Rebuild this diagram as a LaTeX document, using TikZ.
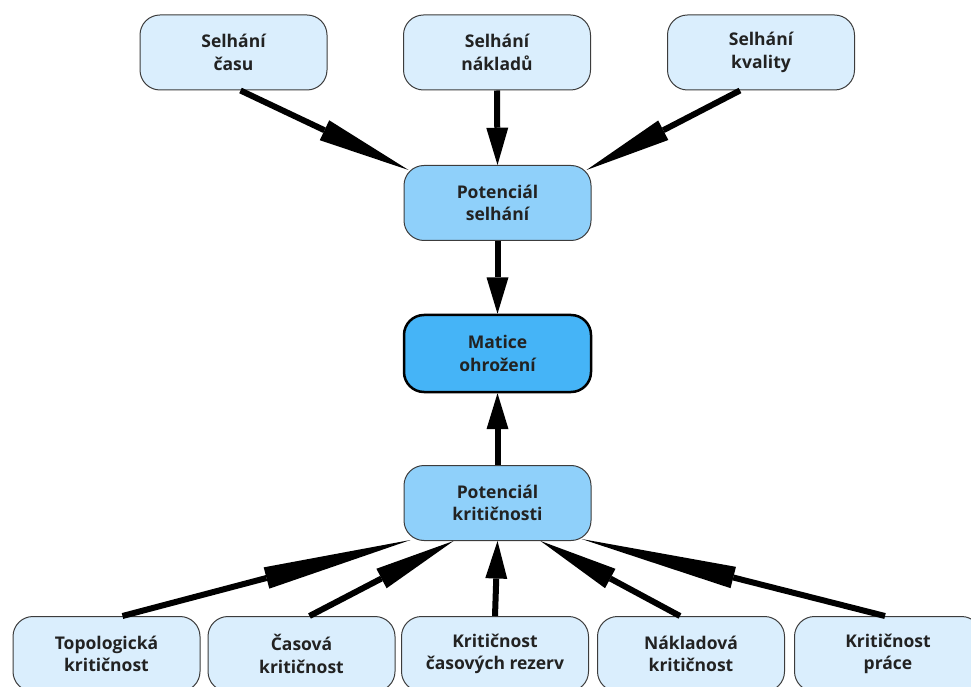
\documentclass[tikz,border=0pt]{standalone}
\usepackage{fontspec}
\newfontfamily\uzelfont{Open Sans}
\usetikzlibrary{calc}

\definecolor{svetla}{RGB}{218,238,253}
\definecolor{stredni}{RGB}{143,208,250}
\definecolor{tmava}{RGB}{69,180,247}
\definecolor{ramecek}{RGB}{60,60,60}
\definecolor{pismo}{RGB}{34,34,34}

\tikzset{
  uzel/.style={draw=ramecek, line width=1pt, rounded corners=20pt,
    minimum width=187pt, minimum height=75pt, align=center, inner sep=0pt,
    text=pismo, font=\uzelfont\bfseries\fontsize{17.5}{22.5}\selectfont},
  zdroj/.style={uzel, fill=svetla},
  mezi/.style={uzel, fill=stredni},
  cil/.style={uzel, fill=tmava, draw=black, line width=2.5pt, minimum height=77pt}
}

% sipka: rovna cara do poloviny, pak dlouhy hrot az k cili
\newcommand{\sipka}[2]{%
  \coordinate (z) at (#1);
  \coordinate (k) at (#2);
  \coordinate (m) at ($(z)!0.5!(k)$);
  \draw[line width=6pt] (z) -- (m);
  \fill ($(m)!11pt!90:(k)$) -- (k) -- ($(m)!11pt!-90:(k)$) -- cycle;
}

\begin{document}
\begin{tikzpicture}[x=1pt, y=1pt]

		\useasboundingbox (0,0) rectangle (971,686);
		\clip (0,0) rectangle (971,686);

		% Selhani
		\node[zdroj] (cas) at (233.5,633.5) {Selhání\\času};
		\node[zdroj] (naklady) at (497,633.5) {Selhání\\nákladů};
		\node[zdroj] (kvalita) at (761,633.5) {Selhání\\kvality};

		% Potencialy a matice
		\node[mezi] (potsel) at (497.5,483) {Potenciál\\selhání};
		\node[cil] (matice) at (497.5,332.5) {Matice\\ohrožení};
		\node[mezi] (potkrit) at (497.5,183) {Potenciál\\kritičnosti};

		% Kriticnosti
		\node[zdroj] (topo) at (106.5,32) {Topologická\\kritičnost};
		\node[zdroj] (casova) at (301.5,32) {Časová\\kritičnost};
		\node[zdroj] (rezervy) at (495,32) {Kritičnost\\časových rezerv};
		\node[zdroj] (nakladova) at (691,32) {Nákladová\\kritičnost};
		\node[zdroj] (prace) at (888,32) {Kritičnost\\práce};

		% Sipky nahore
		\sipka{$(cas.south)+(7,0)$}{$(potsel.north west)+(5,-5)$}
		\sipka{naklady.south}{potsel.north}
		\sipka{$(kvalita.south)+(-21,0)$}{$(potsel.north east)+(-5,-5)$}
		\sipka{potsel.south}{matice.north}

		% Sipky dole
		\sipka{potkrit.north}{matice.south}
		\sipka{$(topo.north)+(16,0)$}{$(potkrit.south west)+(7,1)$}
		\sipka{$(casova.north)+(8,0)$}{$(potkrit.south)+(-44,0)$}
		\sipka{rezervy.north}{potkrit.south}
		\sipka{$(nakladova.north)+(-11,0)$}{$(potkrit.south)+(43,0)$}
		\sipka{$(prace.north)+(-3,0)$}{$(potkrit.south east)+(-10,2)$}

\end{tikzpicture}
\end{document}
